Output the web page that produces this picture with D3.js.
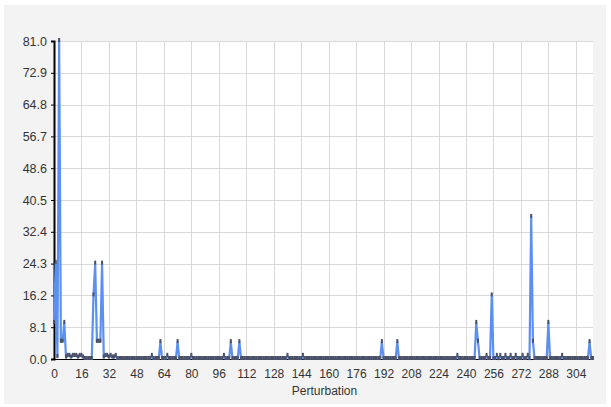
<!DOCTYPE html>
<html>
<head>
<meta charset="utf-8">
<script src="https://cdn.jsdelivr.net/npm/d3@7"></script>
<style>
  html, body { margin: 0; padding: 0; background: #ffffff; }
  svg { display: block; }
  text { font-family: "Liberation Sans", Arial, sans-serif; }
</style>
</head>
<body>
<svg id="chart" width="611" height="407"></svg>
<script>
// ---- data ----
const values = [
  9.2, 24.5, 0.5, 81, 4.4, 4.4, 9.2, 0.4, 0.8, 0.8, 0.4, 0.8, 0.8, 0.8, 0.4, 0.8,
  0.8, 0.4, 0, 0, 0, 0, 0, 16.2, 24.3, 4.4, 4.4, 4.4, 24.3, 0.4, 0.8, 0.8,
  0.4, 0.8, 0.4, 0.4, 0.8, 0, 0, 0, 0, 0, 0, 0, 0, 0, 0, 0,
  0, 0, 0, 0, 0, 0, 0, 0, 0, 0.8, 0, 0, 0, 0, 4.3, 0,
  0, 0, 0.8, 0, 0, 0, 0, 0, 4.3, 0, 0, 0, 0, 0, 0, 0,
  0.8, 0, 0, 0, 0, 0, 0, 0, 0, 0, 0, 0, 0, 0, 0, 0,
  0, 0, 0, 0.8, 0, 0, 0, 4.3, 0, 0, 0, 0, 4.3, 0, 0, 0,
  0, 0, 0, 0, 0, 0, 0, 0, 0, 0, 0, 0, 0, 0, 0, 0,
  0, 0, 0, 0, 0, 0, 0, 0, 0.8, 0, 0, 0, 0, 0, 0, 0,
  0, 0.8, 0, 0, 0, 0, 0, 0, 0, 0, 0, 0, 0, 0, 0, 0,
  0, 0, 0, 0, 0, 0, 0, 0, 0, 0, 0, 0, 0, 0, 0, 0,
  0, 0, 0, 0, 0, 0, 0, 0, 0, 0, 0, 0, 0, 0, 0, 4.3,
  0, 0, 0, 0, 0, 0, 0, 0, 4.3, 0, 0, 0, 0, 0, 0, 0,
  0, 0, 0, 0, 0, 0, 0, 0, 0, 0, 0, 0, 0, 0, 0, 0,
  0, 0, 0, 0, 0, 0, 0, 0, 0, 0, 0, 0.8, 0, 0, 0, 0,
  0, 0, 0, 0, 0, 0, 9.2, 4.4, 0, 0, 0, 0, 0.8, 0, 0, 16.2,
  0, 0, 0.8, 0, 0.8, 0, 0, 0.8, 0, 0, 0.8, 0, 0, 0.8, 0, 0,
  0, 0.8, 0, 0, 0.8, 0, 36.2, 4.4, 0, 0, 0, 0, 0, 0, 0, 0,
  9.2, 0, 0, 0, 0, 0, 0, 0, 0.8, 0, 0, 0, 0, 0, 0, 0,
  0, 0, 0, 0, 0, 0, 0, 0, 4.3, 0, 0
];
const xTicks = [0, 16, 32, 48, 64, 80, 96, 112, 128, 144, 160, 176, 192, 208, 224, 240, 256, 272, 288, 304];
const yTicks = [0.0, 8.1, 16.2, 24.3, 32.4, 40.5, 48.6, 56.7, 64.8, 72.9, 81.0];
const xTitle = "Perturbation";

// ---- layout ----
const svg = d3.select("#chart");
const mLeft = 54, mRight = 593, mTop = 41, mBottom = 359;

svg.append("rect").attr("x", 4).attr("y", 5).attr("width", 602).attr("height", 399)
  .attr("fill", "#f3f3f3");
svg.append("rect").attr("x", mLeft).attr("y", mTop).attr("width", mRight - mLeft).attr("height", mBottom - mTop)
  .attr("fill", "#ffffff");

const x = d3.scaleLinear().domain([0, 314]).range([mLeft, mRight]);
const y = d3.scaleLinear().domain([0, 81]).range([mBottom, mTop]);

// grid
const grid = svg.append("g").attr("stroke", "#d9d9d9").attr("stroke-width", 1);
grid.selectAll("line.h").data(yTicks).enter().append("line")
  .attr("x1", mLeft).attr("x2", mRight)
  .attr("y1", d => Math.round(y(d)) + 0.5).attr("y2", d => Math.round(y(d)) + 0.5);
grid.selectAll("line.v").data(xTicks.slice(1)).enter().append("line")
  .attr("y1", mTop).attr("y2", mBottom)
  .attr("x1", d => Math.round(x(d)) + 0.5).attr("x2", d => Math.round(x(d)) + 0.5);

// axes
const yAxis = d3.axisLeft(y).tickValues(yTicks).tickFormat(d3.format(".1f")).tickSize(3).tickPadding(4);
const gy = svg.append("g").attr("transform", `translate(${mLeft},0)`).call(yAxis);
gy.select(".domain").attr("stroke", "#000").attr("stroke-width", 2);
gy.selectAll(".tick line").attr("stroke", "#000");
gy.selectAll("text").attr("font-size", 12.5).attr("fill", "#333")
  .attr("font-family", "Liberation Sans, Arial, sans-serif");

const xAxis = d3.axisBottom(x).tickValues(xTicks).tickFormat(d3.format("d")).tickSize(0).tickPadding(10);
const gx = svg.append("g").attr("transform", `translate(0,${mBottom})`).call(xAxis);
gx.select(".domain").attr("stroke", "#000").attr("stroke-width", 1);
gx.selectAll("text").attr("font-size", 12).attr("fill", "#333")
  .attr("font-family", "Liberation Sans, Arial, sans-serif");

svg.append("text").attr("x", (mLeft + mRight) / 2 + 1).attr("y", 395)
  .attr("text-anchor", "middle").attr("font-size", 12).attr("fill", "#333")
  .text(xTitle);

// series
const data = values.map((v, i) => ({ i, v }));
const line = d3.line().x(d => x(d.i)).y(d => y(d.v));
svg.append("path").datum(data)
  .attr("fill", "none").attr("stroke", "#5b8ff0").attr("stroke-width", 2.2)
  .attr("stroke-linejoin", "round").attr("d", line);

svg.append("g").selectAll("rect").data(data).enter().append("rect")
  .attr("x", d => x(d.i) - 1).attr("y", d => y(d.v) - 3)
  .attr("width", 2).attr("height", 4)
  .attr("fill", "#4a5066");
</script>
</body>
</html>
